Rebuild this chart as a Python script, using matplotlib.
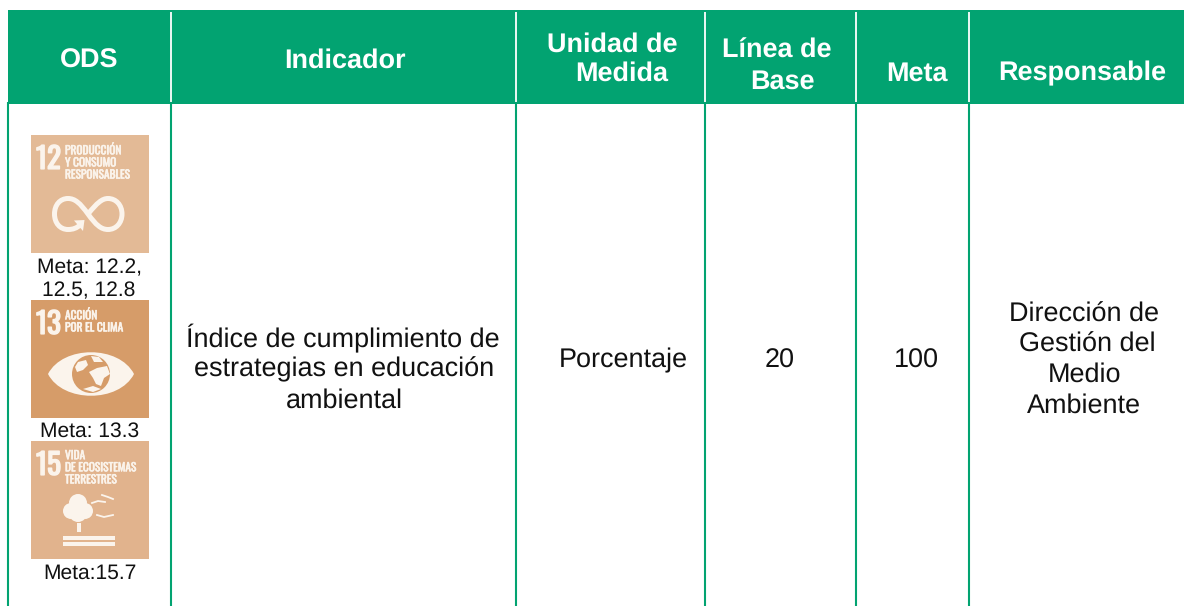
import matplotlib
matplotlib.use("Agg")
import matplotlib.pyplot as plt
import matplotlib.patheffects as pe
from matplotlib.patches import Rectangle, Circle, Polygon, PathPatch
from matplotlib.path import Path

GREEN = "#02A371"
INK = "#111111"
HEADER_LINES = [("ODS", 89, 58), ("Indicador", 345, 57.5), ("Unidad de", 612, 41.5), ("Medida", 621.5, 71),
                ("Línea de", 777, 48), ("Base", 782, 79), ("Meta", 917, 70.5), ("Responsable", 1082.5, 70.5)]
COL_LINES = [171, 516, 705, 856, 969]
CELL_LINES = [("Índice de cumplimiento de", 343, 335.5), ("estrategias en educación", 344, 366.5), ("ambiental", 344, 397.5),
              ("Porcentaje", 623, 358), ("20", 780, 358), ("100", 916.5, 358),
              ("Dirección de", 1084, 312), ("Gestión del", 1087, 342), ("Medio", 1084.5, 372), ("Ambiente", 1084, 403)]
TILES = [("12", "PRODUCCIÓN\nY CONSUMO\nRESPONSABLES", "#E3BA96", 135),
         ("13", "ACCIÓN\nPOR EL CLIMA", "#D69C69", 300),
         ("15", "VIDA\nDE ECOSISTEMAS\nTERRESTRES", "#E1B38D", 441)]
METAS = [("Meta: 12.2,", 89.5, 266), ("12.5, 12.8", 89, 288.5), ("Meta: 13.3", 89.5, 429.5), ("Meta:15.7", 89.5, 571.5)]

plt.rcParams["font.family"] = ["Liberation Sans", "DejaVu Sans"]
plt.rcParams["text.hinting"] = "none"
plt.rcParams["text.hinting_factor"] = 1
fig = plt.figure(figsize=(11.84, 6.06), dpi=100)
ax = fig.add_axes([0, 0, 1, 1])
ax.set_xlim(0, 1184)
ax.set_ylim(606, 0)
ax.axis("off")

ax.add_patch(Rectangle((8, 10), 1176, 93.7, fc=GREEN, ec="none"))
for x in COL_LINES:
    ax.plot([x, x], [12, 102], color="white", lw=1.3, solid_capstyle="butt")
for x in [8] + COL_LINES:
    ax.plot([x, x], [102, 606], color=GREEN, lw=1.5, solid_capstyle="butt")
for t, x, y in HEADER_LINES:
    ax.text(x, y, t, color="white", fontsize=19.2, fontweight="bold", ha="center", va="center_baseline")
for t, x, y in CELL_LINES:
    ax.text(x, y, t, color=INK, fontsize=19.2, ha="center", va="center_baseline")

X0 = 31
S = 118
W = "#FBF4EC"
TFONT = ["Oswald", "Bebas Neue", "Liberation Sans", "DejaVu Sans"]


def pts(y0, coords):
    return [(X0 + a, y0 + b) for a, b in coords]


for num, title, col, y0 in TILES:
    ax.add_patch(Rectangle((X0, y0), S, S, fc=col, ec="none"))
    ax.text(X0 + 17.5, y0 + 22, num, color=W, fontsize=21, ha="center", va="center_baseline", family=TFONT,
            path_effects=[pe.withStroke(linewidth=1.1, foreground=W)])
    ax.text(X0 + 34, y0 + 9, title, color=W, fontsize=8.2, ha="left", va="top", family=TFONT, linespacing=1.08,
            path_effects=[pe.withStroke(linewidth=0.4, foreground=W)])

# 12: infinity loop with arrow
y = TILES[0][3]
verts = [(57, 79), (66, 68), (71, 63.5), (77, 63.5), (85, 63.5), (91, 70), (91, 79), (91, 88), (85, 94.5), (77, 94.5),
         (70, 94.5), (65, 90), (57, 79), (49, 68), (44, 63.5), (37, 63.5), (29, 63.5), (23.5, 70), (23.5, 79),
         (23.5, 88), (29, 94.5), (37, 94.5), (42, 94.5), (46, 93), (49, 90)]
codes = [Path.MOVETO] + [Path.CURVE4] * (len(verts) - 1)
ax.add_patch(PathPatch(Path(pts(y, verts), codes), fc="none", ec=W, lw=3.6))
ax.add_patch(Polygon(pts(y, [(43, 85.5), (53.5, 85), (52, 96)]), fc=W, ec="none"))

# 13: eye with globe
y = TILES[1][3]
eye = [(17, 74), (32, 45), (88, 45), (103, 74), (88, 103), (32, 103), (17, 74)]
ax.add_patch(PathPatch(Path(pts(y, eye), [Path.MOVETO] + [Path.CURVE4] * 6), fc=W, ec="none"))
ax.add_patch(Circle((X0 + 60, y + 74), 19, fc=TILES[1][2], ec="none"))
for shape in ([(47, 62), (55, 60), (57, 65), (52, 70), (46, 72), (44, 67)],
              ((58, 72), (66, 68), (76, 66), (79, 74), (73, 78), (70, 86), (65, 84), (62, 78)),
              ((52, 89), (62, 86), (70, 89), (62, 92)),
              ((60, 56), (68, 57), (72, 62), (63, 62))):
    ax.add_patch(Polygon(pts(y, shape), fc=W, ec="none"))

# 15: tree, birds and ground
y = TILES[2][3]
for cx, cy, r in [(47, 62, 9), (40, 70, 8), (54, 70, 8), (47, 72, 9)]:
    ax.add_patch(Circle((X0 + cx, y + cy), r, fc=W, ec="none"))
ax.add_patch(Rectangle((X0 + 46, y + 82), 4, 9, fc=W, ec="none"))
ax.add_patch(Rectangle((X0 + 32, y + 95), 52, 4, fc=W, ec="none"))
ax.add_patch(Rectangle((X0 + 32, y + 101), 52, 4, fc=W, ec="none"))
for bird in ([(61, 62), (67, 60), (74, 61)], [(71, 54), (77, 56), (82, 58)], [(66, 74), (73, 76), (82, 74)]):
    ax.plot(*zip(*pts(y, bird)), color=W, lw=1.3)

for t, x, y in METAS:
    ax.text(x, y, t, color=INK, fontsize=15, ha="center", va="center_baseline")

fig.savefig("out.png", dpi=100)
